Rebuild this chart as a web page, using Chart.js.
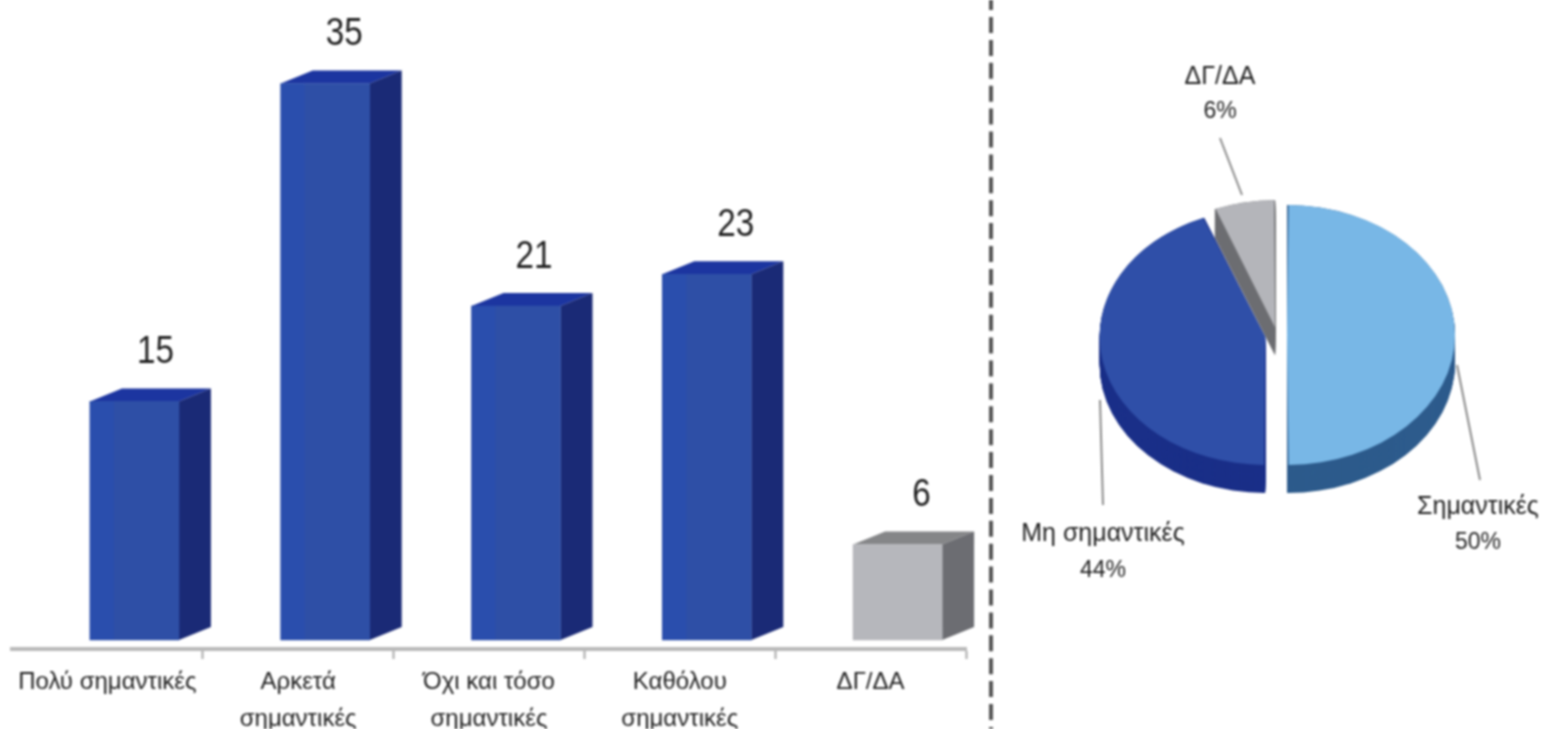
<!DOCTYPE html>
<html lang="el">
<head>
<meta charset="utf-8">
<title>Chart</title>
<script src="https://cdn.jsdelivr.net/npm/chart.js@4"></script>
<style>
  html, body { margin: 0; padding: 0; background: #fff; overflow: hidden; }
  canvas { position: absolute; top: 0; filter: blur(0.9px); }
  #barChart { left: 0; }
  #pieChart { left: 1000px; }
</style>
</head>
<body>
<canvas id="barChart" width="1000" height="729"></canvas>
<canvas id="pieChart" width="545" height="729"></canvas>
<script>
const barLabels = ['Πολύ σημαντικές', ['Αρκετά', 'σημαντικές'], ['Όχι και τόσο', 'σημαντικές'], ['Καθόλου', 'σημαντικές'], 'ΔΓ/ΔΑ'];
const barValues = [15, 35, 21, 23, 6];
const pieLabels = ['Σημαντικές', 'Μη σημαντικές', 'ΔΓ/ΔΑ'];
const pieValues = [50, 44, 6];

const barFront = ['#2e4fa6', '#2e4fa6', '#2e4fa6', '#2e4fa6', '#b6b7bc'];
const barSide = ['#1a2a76', '#1a2a76', '#1a2a76', '#1a2a76', '#6c6d72'];
const barTop = ['#1c35a0', '#1c35a0', '#1c35a0', '#1c35a0', '#858688'];
const barStripe = ['rgba(30,75,205,0.2)', 'rgba(30,75,205,0.2)', 'rgba(30,75,205,0.2)', 'rgba(30,75,205,0.2)', 'rgba(0,0,0,0)'];
const pieTop = ['#78b7e6', '#2f4fa8', '#b4b5ba'];
const pieSide = ['#2d5b8c', '#1a2f88', '#6d6e72'];

const textColor = '#1f1f1f';
const barShift = 27;   // bars sit to the right of their category centre
const depthX = 32, depthY = 13;
const valueDx = [21, 19, 18, 29, 24]; // value labels are not quite centred over the bars
const squash = 0.774;  // pie is seen at an angle
const pieDepth = 28;

// label placement around the pie, in canvas px: text centre and leader line
const pieNotes = [
  { x: 478, y1: 507, y2: 543, line: [457, 365, 480, 480] },
  { x: 103, y1: 534, y2: 571, line: [100, 400, 103, 505] },
  { x: 220, y1: 77, y2: 112, line: [220, 138, 242, 195] }
];

const bar3d = {
  id: 'bar3d',
  beforeDatasetsDraw(chart) {
    const ctx = chart.ctx;
    const bars = chart.getDatasetMeta(0).data;
    ctx.save();
    ctx.translate(barShift, 0);
    bars.forEach(function (b, i) {
      const x0 = b.x - b.width / 2, x1 = b.x + b.width / 2;
      // top face
      ctx.fillStyle = barTop[i];
      ctx.beginPath();
      ctx.moveTo(x0, b.y);
      ctx.lineTo(x0 + depthX, b.y - depthY);
      ctx.lineTo(x1 + depthX, b.y - depthY);
      ctx.lineTo(x1, b.y);
      ctx.fill();
      // side face
      ctx.fillStyle = barSide[i];
      ctx.beginPath();
      ctx.moveTo(x1, b.y);
      ctx.lineTo(x1 + depthX, b.y - depthY);
      ctx.lineTo(x1 + depthX, b.base - depthY);
      ctx.lineTo(x1, b.base);
      ctx.fill();
    });
  },
  afterDatasetsDraw(chart) {
    const ctx = chart.ctx;
    const bars = chart.getDatasetMeta(0).data;
    // brighter strip on the left of the front face
    bars.forEach(function (b, i) {
      ctx.fillStyle = barStripe[i];
      ctx.fillRect(b.x - b.width / 2, b.y, 24, b.base - b.y);
    });
    ctx.restore();
    ctx.save();
    ctx.fillStyle = textColor;
    ctx.font = "38px 'Liberation Sans', sans-serif";
    ctx.textAlign = 'center';
    ctx.textBaseline = 'middle';
    bars.forEach(function (b, i) {
      const txt = String(barValues[i]);
      ctx.fillText(txt, b.x + barShift + valueDx[i], b.y - 49, txt.length * 18.5);
    });
    // dashed divider between the two charts
    ctx.strokeStyle = '#555';
    ctx.lineWidth = 4;
    ctx.setLineDash([16, 6.9]);
    ctx.lineDashOffset = 5.9;
    ctx.beginPath();
    ctx.moveTo(991, 0);
    ctx.lineTo(991, 729);
    ctx.stroke();
    ctx.restore();
  }
};

new Chart(document.getElementById('barChart'), {
  type: 'bar',
  data: {
    labels: barLabels,
    datasets: [{
      data: barValues,
      backgroundColor: barFront,
      borderWidth: 0,
      barThickness: 89
    }]
  },
  plugins: [bar3d],
  options: {
    responsive: false,
    animation: false,
    layout: { padding: { left: 12, right: 34, top: 0, bottom: 0 } },
    plugins: { legend: { display: false }, tooltip: { enabled: false } },
    scales: {
      y: { display: false, min: -0.57, max: 40.25 },
      x: {
        afterFit(scale) { scale.height = 80; },
        border: { color: '#b9b9b9', width: 4 },
        grid: {
          drawOnChartArea: false,
          tickLength: 10,
          tickWidth: 2,
          tickColor: function (c) { return c.index === 0 ? 'transparent' : '#a9a9a9'; }
        },
        ticks: {
          color: textColor,
          padding: 5,
          maxRotation: 0,
          autoSkip: false,
          font: { family: "'Liberation Sans', sans-serif", size: 24, lineHeight: 1.54 }
        }
      }
    }
  }
});

const pie3d = {
  id: 'pie3d',
  beforeDatasetsDraw(chart) {
    const ctx = chart.ctx;
    const arcs = chart.getDatasetMeta(0).data;
    const cy = arcs[0].y;
    ctx.save();
    ctx.translate(0, cy);
    ctx.scale(1, squash);
    ctx.translate(0, -cy);
    // grey first so that the blue slices overlap its side
    [2, 1, 0].forEach(function (i) {
      const a = arcs[i];
      const mid = (a.startAngle + a.endAngle) / 2;
      const off = a.options.offset / 4;
      // the arc element moves by the offset and grows by offset * fix when it draws
      const fix = 1 - Math.sin(Math.min(Math.PI, a.circumference));
      const x = a.x + Math.cos(mid) * off;
      const y = a.y + Math.sin(mid) * off;
      ctx.fillStyle = pieSide[i];
      for (let d = pieDepth / squash; d > 0; d -= 1) {
        ctx.beginPath();
        ctx.moveTo(x, y + d);
        ctx.arc(x, y + d, a.outerRadius + off * fix, a.startAngle, a.endAngle);
        ctx.closePath();
        ctx.fill();
      }
    });
  },
  afterDatasetsDraw(chart) {
    const ctx = chart.ctx;
    ctx.restore();
    ctx.save();
    ctx.textAlign = 'center';
    ctx.textBaseline = 'middle';
    pieNotes.forEach(function (n, i) {
      ctx.strokeStyle = '#8a8a8a';
      ctx.lineWidth = 2;
      ctx.beginPath();
      ctx.moveTo(n.line[0], n.line[1]);
      ctx.lineTo(n.line[2], n.line[3]);
      ctx.stroke();
      ctx.fillStyle = textColor;
      ctx.font = "25px 'Liberation Sans', sans-serif";
      ctx.fillText(pieLabels[i], n.x, n.y1);
      ctx.font = "23px 'Liberation Sans', sans-serif";
      ctx.fillText(pieValues[i] + '%', n.x, n.y2);
    });
    ctx.restore();
  }
};

new Chart(document.getElementById('pieChart'), {
  type: 'pie',
  data: {
    labels: pieLabels,
    datasets: [{
      data: pieValues,
      backgroundColor: pieTop,
      borderWidth: 0,
      offset: [40, 48, 40],
      radius: 158
    }]
  },
  plugins: [pie3d],
  options: {
    responsive: false,
    animation: false,
    layout: { padding: { left: 9, right: 0, top: 0, bottom: 59 } },
    plugins: { legend: { display: false }, tooltip: { enabled: false } }
  }
});
</script>
</body>
</html>
